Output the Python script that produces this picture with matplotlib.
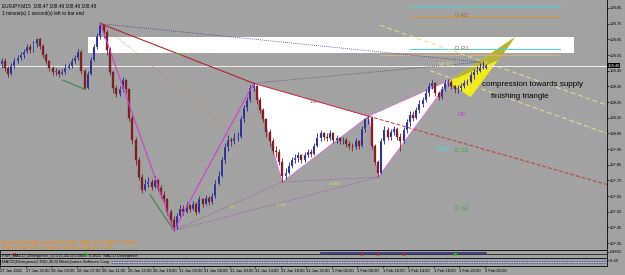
import matplotlib
matplotlib.use("Agg")
import matplotlib.pyplot as plt
from matplotlib.patches import Polygon, Rectangle

plt.rcParams['font.family'] = ['Liberation Sans', 'DejaVu Sans']

# 30-minute candles (index 0 .. 152)
closes = [108.51, 108.47, 108.43, 108.48, 108.51, 108.53, 108.55, 108.57, 108.60, 108.58,
          108.62, 108.65, 108.61, 108.55, 108.51, 108.47, 108.44, 108.45, 108.43, 108.44,
          108.47, 108.48, 108.51, 108.53, 108.57, 108.45, 108.34, 108.43, 108.52, 108.60,
          108.67, 108.74, 108.70, 108.58, 108.44, 108.34, 108.30, 108.33, 108.39, 108.33,
          108.15, 108.01, 107.88, 107.77, 107.69, 107.73, 107.74, 107.71, 107.75, 107.70,
          107.66, 107.63, 107.55, 107.50, 107.45, 107.52, 107.57, 107.55, 107.59, 107.57,
          107.60, 107.55, 107.63, 107.60, 107.64, 107.61, 107.65, 107.73, 107.78, 107.88,
          107.96, 108.01, 108.00, 108.02, 108.03, 108.14, 108.21, 108.26, 108.34, 108.35,
          108.26, 108.20, 108.14, 108.06, 108.00, 107.94, 107.93, 107.87, 107.78, 107.80,
          107.84, 107.88, 107.89, 107.91, 107.88, 107.91, 107.93, 107.92, 107.97, 108.02,
          108.05, 108.03, 108.02, 108.05, 108.01, 108.02, 108.00, 108.01, 107.98, 107.97,
          107.96, 108.00, 107.97, 108.08, 108.14, 108.15, 107.97, 107.87, 107.80, 108.00,
          108.07, 108.03, 108.06, 108.08, 108.03, 108.00, 108.07, 108.12, 108.17, 108.15,
          108.20, 108.24, 108.26, 108.31, 108.35, 108.37, 108.31, 108.28, 108.33, 108.37,
          108.38, 108.35, 108.33, 108.34, 108.35, 108.37, 108.38, 108.42, 108.44, 108.45,
          108.47, 108.47, 108.48]
highs = [108.53, 108.53, 108.48, 108.50, 108.53, 108.55, 108.57, 108.59, 108.62, 108.62,
         108.64, 108.66, 108.66, 108.62, 108.56, 108.52, 108.48, 108.47, 108.46, 108.46,
         108.49, 108.50, 108.53, 108.55, 108.59, 108.58, 108.46, 108.45, 108.54, 108.62,
         108.69, 108.76, 108.75, 108.71, 108.60, 108.45, 108.36, 108.35, 108.41, 108.40,
         108.34, 108.17, 108.03, 107.90, 107.79, 107.76, 107.77, 107.76, 107.78, 107.76,
         107.72, 107.68, 107.64, 107.57, 107.52, 107.54, 107.59, 107.59, 107.61, 107.60,
         107.62, 107.61, 107.65, 107.64, 107.66, 107.65, 107.67, 107.75, 107.81, 107.90,
         107.99, 108.04, 108.03, 108.05, 108.06, 108.16, 108.23, 108.28, 108.36, 108.37,
         108.36, 108.28, 108.21, 108.15, 108.08, 108.02, 107.97, 107.95, 107.89, 107.83,
         107.87, 107.90, 107.92, 107.93, 107.92, 107.93, 107.95, 107.95, 107.99, 108.05,
         108.07, 108.06, 108.05, 108.07, 108.06, 108.04, 108.03, 108.03, 108.02, 108.00,
         107.99, 108.02, 108.01, 108.10, 108.15, 108.16, 108.16, 107.98, 107.88, 108.02,
         108.10, 108.09, 108.08, 108.10, 108.09, 108.05, 108.09, 108.14, 108.19, 108.19,
         108.22, 108.26, 108.28, 108.33, 108.37, 108.39, 108.38, 108.32, 108.35, 108.39,
         108.40, 108.39, 108.36, 108.36, 108.37, 108.39, 108.40, 108.44, 108.46, 108.48,
         108.50, 108.51, 108.49]
lows = [108.47, 108.45, 108.41, 108.42, 108.47, 108.50, 108.52, 108.53, 108.56, 108.56,
        108.57, 108.60, 108.59, 108.53, 108.49, 108.45, 108.42, 108.42, 108.41, 108.42,
        108.43, 108.46, 108.47, 108.50, 108.52, 108.43, 108.33, 108.33, 108.42, 108.51,
        108.59, 108.65, 108.66, 108.55, 108.42, 108.31, 108.28, 108.29, 108.32, 108.31,
        108.13, 107.98, 107.85, 107.75, 107.67, 107.68, 107.71, 107.69, 107.70, 107.68,
        107.64, 107.61, 107.53, 107.48, 107.43, 107.44, 107.51, 107.53, 107.54, 107.55,
        107.56, 107.53, 107.54, 107.58, 107.59, 107.59, 107.60, 107.64, 107.72, 107.77,
        107.86, 107.94, 107.97, 107.98, 108.00, 108.02, 108.12, 108.19, 108.25, 108.32,
        108.24, 108.18, 108.12, 108.03, 107.97, 107.92, 107.90, 107.85, 107.74, 107.76,
        107.79, 107.83, 107.86, 107.87, 107.86, 107.87, 107.90, 107.90, 107.91, 107.96,
        108.00, 108.01, 108.00, 108.01, 107.99, 107.99, 107.98, 107.98, 107.96, 107.95,
        107.94, 107.95, 107.95, 107.96, 108.06, 108.11, 107.95, 107.85, 107.77, 107.79,
        107.98, 108.01, 108.01, 108.04, 108.01, 107.94, 107.99, 108.05, 108.10, 108.13,
        108.14, 108.18, 108.22, 108.25, 108.29, 108.33, 108.29, 108.26, 108.27, 108.32,
        108.35, 108.33, 108.31, 108.31, 108.32, 108.34, 108.36, 108.37, 108.40, 108.43,
        108.44, 108.46, 108.46]
first_open = 108.49

tick_labels = ["27 Jan 2011", "27 Jan 22:00", "28 Jan 03:00", "28 Jan 07:00", "28 Jan 11:00",
               "28 Jan 15:00", "28 Jan 19:00", "31 Jan 02:00", "31 Jan 06:00", "31 Jan 10:00",
               "31 Jan 14:00", "31 Jan 18:00", "31 Jan 22:00", "1 Feb 02:00", "1 Feb 06:00",
               "1 Feb 10:00", "1 Feb 14:00", "1 Feb 18:00", "1 Feb 22:00", "2 Feb 02:00"]
price_ticks = [107.35, 107.45, 107.55, 107.65, 107.75, 107.85, 107.95, 108.05,
               108.15, 108.25, 108.35, 108.45, 108.55, 108.65, 108.75, 108.85]

# butterfly points X A B C D E F (bar index, price)
pat_bar = [31, 54, 79, 88, 115, 118, 140.5]
pat_price = [108.75, 107.43, 108.37, 107.74, 108.16, 107.77, 108.39]

# supply zone
zone_bar = [27.1, 179.4]
zone_price = [108.56, 108.665]

# yellow compression wedge
wedge_bar = [140, 161, 147]
wedge_price = [108.38, 108.665, 108.28]
wedge_mid = [156, 108.52]

# pivot levels: (price, start bar, end bar, colour)
levels = [(108.86, 128, 175, '#40D8E0'), (108.79, 128, 175, '#D89040'),
          (108.59, 128, 175, '#40D8E0'), (108.55, 118.6, 175, '#D8B080')]
level_text = [("D R2", 142.1, 108.80, '#B06030'), ("D R1", 142.1, 108.59, '#B06030'),
              ("W R1", 137.0, 108.49, '#E8E070'), ("DP", 142.8, 108.17, '#D040D0'),
              ("WPP", 136.4, 107.95, '#40E0E0'), ("D S1", 142.1, 107.94, '#30B030'),
              ("D S2", 142.1, 107.57, '#30B030')]
fib_text = [("1.27", 54.3, 108.55, '#90E040'), ("0.5", 71.6, 107.58, '#C8E040'),
            ("0.786", 86.3, 107.59, '#C8E040'), ("0.886", 103, 107.73, '#C8E040'),
            ("1.41", 96.7, 108.25, '#606060')]

sub1_red = [4, 113, 118, 126]
sub1_green = [26, 142]

bg = '#A2A2A2'
right = 607
xmax = -0.5 + right / 3.19

fig = plt.figure(figsize=(6.25, 2.75), dpi=100, facecolor=bg)
ax = fig.add_axes([0, 25 / 275, right / 625, 250 / 275], facecolor=bg)
ax1 = fig.add_axes([0, 17 / 275, right / 625, 8 / 275], facecolor=bg)
ax2 = fig.add_axes([0, 9 / 275, right / 625, 8 / 275], facecolor=bg)

# zone and white triangles
ax.add_patch(Rectangle((zone_bar[0], zone_price[0]), zone_bar[1] - zone_bar[0],
                       zone_price[1] - zone_price[0], facecolor='white', edgecolor='none', zorder=1))
P = list(zip(pat_bar, pat_price))
ax.add_patch(Polygon([P[2], P[3], P[4]], closed=True, facecolor='white', edgecolor='#E070E0', lw=0.6, zorder=1))
ax.add_patch(Polygon([P[4], P[5], P[6]], closed=True, facecolor='white', edgecolor='#E070E0', lw=0.6, zorder=1))

# wedge
W = list(zip(wedge_bar, wedge_price))
ax.add_patch(Polygon([W[0], W[1], W[2]], closed=True, facecolor='#F2EA1C', edgecolor='none', zorder=1))
ax.add_patch(Polygon([W[0], W[1], tuple(wedge_mid)], closed=True, facecolor='#B9B23A', edgecolor='none', zorder=1))

# bid line
ax.axhline(closes[-1], color='white', lw=0.6, zorder=1.5)

# pivot levels and labels
for p, b0, b1, c in levels:
    ax.plot([b0, b1], [p, p], color=c, lw=0.7, zorder=1.6)
for t, b, p, c in level_text:
    ax.text(b, p, t, color=c, fontsize=4.3, va='center', ha='left', zorder=5)
for t, b, p, c in fib_text:
    ax.text(b, p, t, color=c, fontsize=3, va='center', ha='left', zorder=5)

# yellow dashed channel
ax.plot([118.6, xmax], [108.74, 108.23], color='#E6E080', lw=0.7, ls=(0, (5, 3)), zorder=1.7)
ax.plot([134.3, xmax], [108.45, 108.05], color='#E6E080', lw=0.7, ls=(0, (5, 3)), zorder=1.7)

# pattern lines
X, A, B, C, D, E, F = P
ax.plot([X[0], A[0], B[0]], [X[1], A[1], B[1]], color='#D040D0', lw=0.8, zorder=4)
ax.plot([X[0], B[0]], [X[1], B[1]], color='#B02828', lw=0.8, zorder=4)
slope = (D[1] - B[1]) / (D[0] - B[0])
ax.plot([D[0], xmax], [D[1], D[1] + slope * (xmax - D[0])], color='#C83838', lw=0.7, ls=(0, (4, 2)), zorder=2)
ax.plot([B[0], D[0]], [B[1], D[1]], color='#C83838', lw=0.7, zorder=2)
for p1, p2 in [(A, C), (A, E), (C, E)]:
    ax.plot([p1[0], p2[0]], [p1[1], p2[1]], color='#9050A0', lw=0.6, ls=(0, (1, 1.5)), zorder=2)
ax.plot([X[0], 71], [X[1], 108.08], color='#D08070', lw=0.6, ls=(0, (1, 1.5)), zorder=2)
ax.plot([X[0], 150], [X[1], 108.505], color='#404080', lw=0.6, ls=(0, (1, 1.5)), zorder=2)
ax.plot([B[0], 150], [B[1], 108.505], color='#505070', lw=0.6, ls=(0, (1, 1.5)), zorder=2)
ax.plot([19.2, 26.2], [108.39, 108.33], color='#208020', lw=0.6, zorder=2)
ax.plot([46.5, A[0]], [107.66, A[1]], color='#208020', lw=0.6, zorder=2)

# candles
opens = [first_open] + closes[:-1]
for i in range(len(closes)):
    o, c = opens[i], closes[i]
    col = '#1E1E8C' if c >= o else '#8A2020'
    ax.vlines(i, lows[i], highs[i], color=col, lw=0.6, zorder=3)
    ax.bar(i, max(abs(c - o), 0.004), bottom=min(o, c), width=0.62, color=col,
           edgecolor='#B8B8D8' if c >= o else '#502020', lw=0.2, zorder=3)

ax.set_xlim(-0.5, xmax)
ax.set_ylim(107.306, 108.901)
ax.yaxis.tick_right()
ax.set_yticks(price_ticks)
ax.set_yticklabels([f"{v:.2f}" for v in price_ticks], fontsize=3.0)
ax.tick_params(axis='y', length=1.5, pad=0.6, width=0.5)
ax.set_xticks([])
for s in ['left', 'top']:
    ax.spines[s].set_visible(False)
for s in ['right', 'bottom']:
    ax.spines[s].set_linewidth(0.6)

ax.text(1.001, closes[-1], f"{closes[-1]:.2f}", transform=ax.get_yaxis_transform(),
        fontsize=3.0, color='white', va='center', ha='left',
        bbox=dict(boxstyle='square,pad=0.12', fc='black', ec='none'), zorder=6)

# annotations
ax.text(0.004, 0.985, "EURJPY,M15  108.47 108.49 108.46 108.48", transform=ax.transAxes,
        fontsize=3.4, va='top', ha='left')
ax.text(0.004, 0.955, "1 minute(s) 1 second(s) left to bar end", transform=ax.transAxes,
        fontsize=3.4, va='top', ha='left')
ax.text(150.6, 108.365, "compression towards supply", fontsize=5.8, va='center', ha='left', zorder=6)
ax.text(162.5, 108.285, "finishing triangle", fontsize=5.8, va='center', ha='center', zorder=6)
ax.text(0.004, 0.03, "Bearish Butterfly on EURJPY M15, WRR: 7.3% PRZ: +0.4pips",
        transform=ax.transAxes, fontsize=3.5, color='#FF8C00', va='center', ha='left', zorder=6)
ax.text(0.004, 0.011, "Entry Hints -0.40 , Range: 108.48 to 108.85 = 0.38",
        transform=ax.transAxes, fontsize=3.5, color='#FF8C00', va='center', ha='left', zorder=6)

# sub window 1
ax1.axhline(0, color='#202020', lw=0.6)
ax1.plot([100, 152], [0.25, 0.25], color='#303080', lw=1.2)
ax1.plot(sub1_red, [0.1] * len(sub1_red), 'x', color='#D02020', ms=2, mew=0.6)
ax1.plot(sub1_green, [0.1] * len(sub1_green), 's', color='#20C020', ms=1.2)
ax1.set_xlim(-0.5, xmax)
ax1.set_ylim(-1, 1)
ax1.set_xticks([])
ax1.yaxis.tick_right()
ax1.set_yticks([0.6])
ax1.set_yticklabels(["0.4655"], fontsize=2.8)
ax1.tick_params(axis='y', length=1.2, pad=0.6, width=0.4)
ax1.text(0.004, 0.3, "FXR_MACD_Divergence_v1.0 (5,34,5) 0.4655  0.3821  MACD Divergence",
         transform=ax1.transAxes, fontsize=3, va='center')
for s in ax1.spines.values():
    s.set_linewidth(0.6)

# sub window 2
ax2.axhline(0.35, color='#3838A0', lw=0.6, ls=(0, (1, 1)))
ax2.axhline(-0.35, color='#3838A0', lw=0.6, ls=(0, (1, 1)))
ax2.axhline(0, color='#D0D0E8', lw=0.5, ls=(0, (1, 1)))
ax2.set_xlim(-0.5, xmax)
ax2.set_ylim(-1, 1)
ax2.yaxis.tick_right()
ax2.set_yticks([0.4])
ax2.set_yticklabels(["-0.40"], fontsize=2.8)
ax2.tick_params(axis='y', length=1.2, pad=0.6, width=0.4)
ax2.text(0.004, 0.5, "MACD(Divergence) 3X(5,30,8) MetaQuotes Software Corp.",
         transform=ax2.transAxes, fontsize=3, va='center',
         bbox=dict(boxstyle='square,pad=0.05', fc=bg, ec='none'))
ax2.set_xticks([i * 8 - 0.5 for i in range(len(tick_labels))])
ax2.set_xticklabels(tick_labels, fontsize=3.0, ha='left')
ax2.tick_params(axis='x', length=1.5, pad=1, width=0.4)
for s in ax2.spines.values():
    s.set_linewidth(0.6)

fig.savefig("out.png", dpi=100, facecolor=bg)
